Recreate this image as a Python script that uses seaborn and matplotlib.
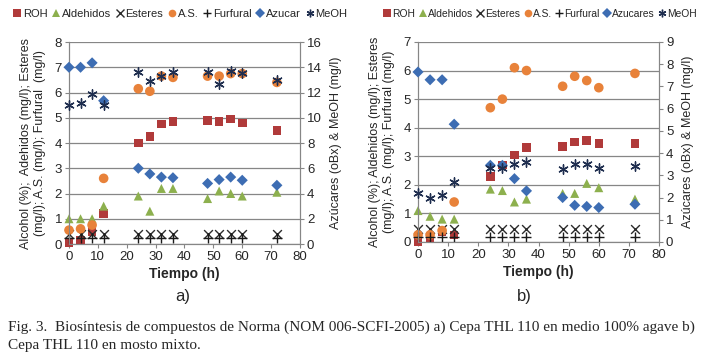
import matplotlib
matplotlib.use("Agg")
import matplotlib.pyplot as plt
import seaborn as sns
from matplotlib.lines import Line2D

sns.set_style("white")
plt.rcParams['font.family'] = ['Liberation Sans', 'DejaVu Sans']

tiempo = [0, 4, 8, 12, 24, 28, 32, 36, 48, 52, 56, 60, 72]

# panel a) Cepa THL 110 en medio 100% agave
roh_a = [0.05, 0.15, 0.5, 1.2, 4.0, 4.25, 4.75, 4.85, 4.9, 4.85, 4.95, 4.8, 4.5]
ald_a = [1.0, 1.0, 1.0, 1.5, 1.9, 1.3, 2.2, 2.2, 1.8, 2.1, 2.0, 1.9, 2.05]
est_a = [0.4] * 13
as_a = [0.55, 0.6, 0.75, 2.6, 6.15, 6.05, 6.65, 6.6, 6.65, 6.65, 6.75, 6.75, 6.4]
fur_a = [0.25] * 13
azu_a = [14.0, 14.0, 14.35, 11.35, 6.0, 5.55, 5.3, 5.25, 4.8, 5.1, 5.3, 5.05, 4.65]
meoh_a = [11.0, 11.2, 11.85, 11.0, 13.65, 12.95, 13.3, 13.6, 13.6, 12.7, 13.7, 13.55, 13.0]

# panel b) Cepa THL 110 en mosto mixto
roh_b = [0.0, 0.1, 0.35, 0.25, 2.3, 2.7, 3.05, 3.3, 3.35, 3.5, 3.55, 3.45, 3.45]
ald_b = [1.1, 0.9, 0.8, 0.8, 1.85, 1.8, 1.4, 1.5, 1.7, 1.7, 2.05, 1.9, 1.5]
est_b = [0.45] * 13
as_b = [0.25, 0.25, 0.4, 1.4, 4.7, 5.0, 6.1, 6.0, 5.45, 5.8, 5.65, 5.4, 5.9]
fur_b = [0.18] * 13
azu_b = [7.65, 7.3, 7.3, 5.3, 3.45, 3.45, 2.85, 2.3, 2.0, 1.65, 1.6, 1.55, 1.7]
meoh_b = [2.2, 2.0, 2.1, 2.7, 3.35, 3.35, 3.5, 3.6, 3.3, 3.5, 3.5, 3.35, 3.4]

c_roh = '#B03A3A'
c_ald = '#8DB04E'
c_est = '#2B2B2B'
c_as = '#E8823A'
c_fur = '#1A1A1A'
c_azu = '#3D6DB3'
c_meoh = '#1F2E4F'
star = (6, 2, 0)
grey = '#868686'

fig = plt.figure(figsize=(7.18, 3.6), dpi=100)


def panel(rect, left_series, right_series, ymax1, ymax2, ylab):
    ax = fig.add_axes(rect)
    for vals, mk, col, s in left_series:
        lw = 1.0 if mk in ('x', '+') else 0
        sns.scatterplot(x=tiempo, y=vals, ax=ax, marker=mk, color=col, s=s,
                        linewidth=lw, edgecolor=col if lw else 'none', zorder=3,
                        clip_on=False)
    ax.set_xlim(0, 80)
    ax.set_ylim(0, ymax1)
    ax.set_xticks(range(0, 81, 10))
    ax.set_yticks(range(0, ymax1 + 1))
    ax.grid(axis='y', color=grey, lw=0.9)
    ax.set_axisbelow(True)
    ax.set_xlabel('Tiempo (h)', fontsize=10, fontweight='bold', labelpad=3)
    ax.set_ylabel(ylab, fontsize=9, labelpad=6, linespacing=1.2)
    ax.tick_params(labelsize=9.5, length=3, color=grey, pad=2, left=True, bottom=True)
    ax.spines['top'].set_visible(False)
    for sp in ['left', 'bottom', 'right']:
        ax.spines[sp].set_color(grey)

    ax2 = ax.twinx()
    for vals, mk, col, s in right_series:
        sns.scatterplot(x=tiempo, y=vals, ax=ax2, marker=mk, color=col, s=s,
                        linewidth=1.0 if mk == star else 0,
                        edgecolor=col if mk == star else 'none', zorder=3,
                        clip_on=False)
    ax2.set_ylim(0, ymax2)
    ax2.set_ylabel('Azúcares (oBx) & MeOH (mg/l)', fontsize=9, labelpad=6)
    ax2.tick_params(labelsize=9.5, length=3, color=grey, pad=2)
    ax2.spines['top'].set_visible(False)
    for sp in ['left', 'bottom', 'right']:
        ax2.spines[sp].set_color(grey)
    return ax, ax2


left_a = [(roh_a, 's', c_roh, 38), (ald_a, '^', c_ald, 42), (est_a, 'x', c_est, 40),
          (as_a, 'o', c_as, 48), (fur_a, '+', c_fur, 50)]
right_a = [(azu_a, 'D', c_azu, 32), (meoh_a, star, c_meoh, 45)]
ax_a, ax_a2 = panel([0.0961, 0.3222, 0.3217, 0.5611], left_a, right_a, 8, 16,
                    'Alcohol (%);  Adehidos (mg/l); Esteres\n(mg/l); A.S. (mg/l); Furfural  (mg/l)')
ax_a2.set_yticks(range(0, 17, 2))

left_b = [(roh_b, 's', c_roh, 38), (ald_b, '^', c_ald, 42), (est_b, 'x', c_est, 40),
          (as_b, 'o', c_as, 48), (fur_b, '+', c_fur, 50)]
right_b = [(azu_b, 'D', c_azu, 32), (meoh_b, star, c_meoh, 45)]
ax_b, ax_b2 = panel([0.5822, 0.3278, 0.3357, 0.5556], left_b, right_b, 7, 9,
                    'Alcohol (%); Aldehidos (mg/l); Esteres\n(mg/l); A.S. (mg/l); Furfural (mg/l)')
ax_b2.set_yticks(range(0, 10))


def legend_handles(azu_name):
    spec = [('ROH', 's', c_roh), ('Aldehidos', '^', c_ald), ('Esteres', 'x', c_est),
            ('A.S.', 'o', c_as), ('Furfural', '+', c_fur), (azu_name, 'D', c_azu),
            ('MeOH', star, c_meoh)]
    return [Line2D([], [], ls='none', marker=m, color=c, markersize=5.5,
                   markeredgewidth=1.0 if m in ('x', '+', star) else 0, label=n)
            for n, m, c in spec]


fig.legend(handles=legend_handles('Azucar'), loc='center', bbox_to_anchor=(0.2507, 0.962),
           ncol=7, frameon=False, fontsize=8, handletextpad=0.1, columnspacing=0.4,
           handlelength=0.8, borderpad=0, borderaxespad=0)
fig.legend(handles=legend_handles('Azucares'), loc='center', bbox_to_anchor=(0.752, 0.962),
           ncol=7, frameon=False, fontsize=7.4, handletextpad=0.1, columnspacing=0.3,
           handlelength=0.8, borderpad=0, borderaxespad=0)

fig.text(183 / 718, 1 - 297 / 360, 'a)', fontsize=12, ha='center', va='center')
fig.text(524 / 718, 1 - 297 / 360, 'b)', fontsize=12, ha='center', va='center')

cap_font = ['Liberation Serif', 'DejaVu Serif']
fig.text(8 / 718, 1 - 327 / 360,
         'Fig. 3.  Biosíntesis de compuestos de Norma (NOM 006-SCFI-2005) a) Cepa THL 110 en medio 100% agave b)',
         fontsize=11, family=cap_font, ha='left', va='center')
fig.text(8 / 718, 1 - 346 / 360, 'Cepa THL 110 en mosto mixto.',
         fontsize=11, family=cap_font, ha='left', va='center')

fig.savefig('out.png', dpi=100)
